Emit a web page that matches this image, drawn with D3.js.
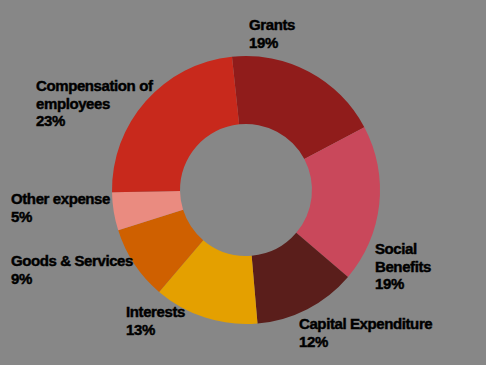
<!DOCTYPE html>
<html>
<head>
<meta charset="utf-8">
<script src="https://cdn.jsdelivr.net/npm/d3@7/dist/d3.min.js"></script>
<style>
  html, body { margin: 0; padding: 0; background: #878787; }
  svg { display: block; }
  .lbl { font-family: "Liberation Sans", Arial, sans-serif; font-weight: bold; font-size: 15px; letter-spacing: -0.4px; fill: #000; stroke: #000; stroke-width: 0.45px; }
</style>
</head>
<body>
<svg id="chart" width="486" height="365"></svg>
<script>
// expense categories, clockwise from the top
var categories = ["Grants", "Social Benefits", "Capital Expenditure", "Interests", "Goods & Services", "Other expense", "Compensation of employees"];
var shares = [18.9, 19.0, 12.4, 12.6, 8.9, 4.6, 23.6];
var shareLabels = ["19%", "19%", "12%", "13%", "9%", "5%", "23%"];
var colors = ["#901c1b", "#c9485b", "#5a1e1b", "#e4a000", "#cf6000", "#ea8b80", "#c8291c"];

var W = 486, H = 365;
var cx = 246, cy = 190, outerR = 134, innerR = 66;

/* label text lines + where each label block sits (first baseline) */
var labelLines = [
    ["Grants"],
    ["Social", "Benefits"],
    ["Capital Expenditure"],
    ["Interests"],
    ["Goods & Services"],
    ["Other expense"],
    ["Compensation of", "employees"]
];
var labelPos = [
    { x: 249, y: 30 },
    { x: 375, y: 254 },
    { x: 299, y: 329 },
    { x: 126, y: 317 },
    { x: 11, y: 266 },
    { x: 11, y: 204 },
    { x: 36, y: 91 }
];
var lineH = 17.5;

var svg = d3.select("#chart");

svg.append("rect")
    .attr("width", W)
    .attr("height", H)
    .attr("fill", "#878787");

var pie = d3.pie()
    .sort(null)
    .startAngle(-6 * Math.PI / 180)
    .endAngle(354 * Math.PI / 180);

var arc = d3.arc()
    .innerRadius(innerR)
    .outerRadius(outerR);

var g = svg.append("g")
    .attr("transform", "translate(" + cx + "," + cy + ")");

g.selectAll("path")
    .data(pie(shares))
    .enter()
    .append("path")
    .attr("d", arc)
    .attr("fill", function(d, i) { return colors[i]; });

var labels = svg.selectAll("text.lbl")
    .data(categories)
    .enter()
    .append("text")
    .attr("class", "lbl")
    .attr("x", function(d, i) { return labelPos[i].x; })
    .attr("y", function(d, i) { return labelPos[i].y; });

labels.each(function(d, i) {
    var t = d3.select(this);
    var lines = labelLines[i].concat([shareLabels[i]]);
    lines.forEach(function(line, j) {
        t.append("tspan")
            .attr("x", labelPos[i].x)
            .attr("dy", j == 0 ? 0 : lineH)
            .text(line);
    });
});
</script>
</body>
</html>
